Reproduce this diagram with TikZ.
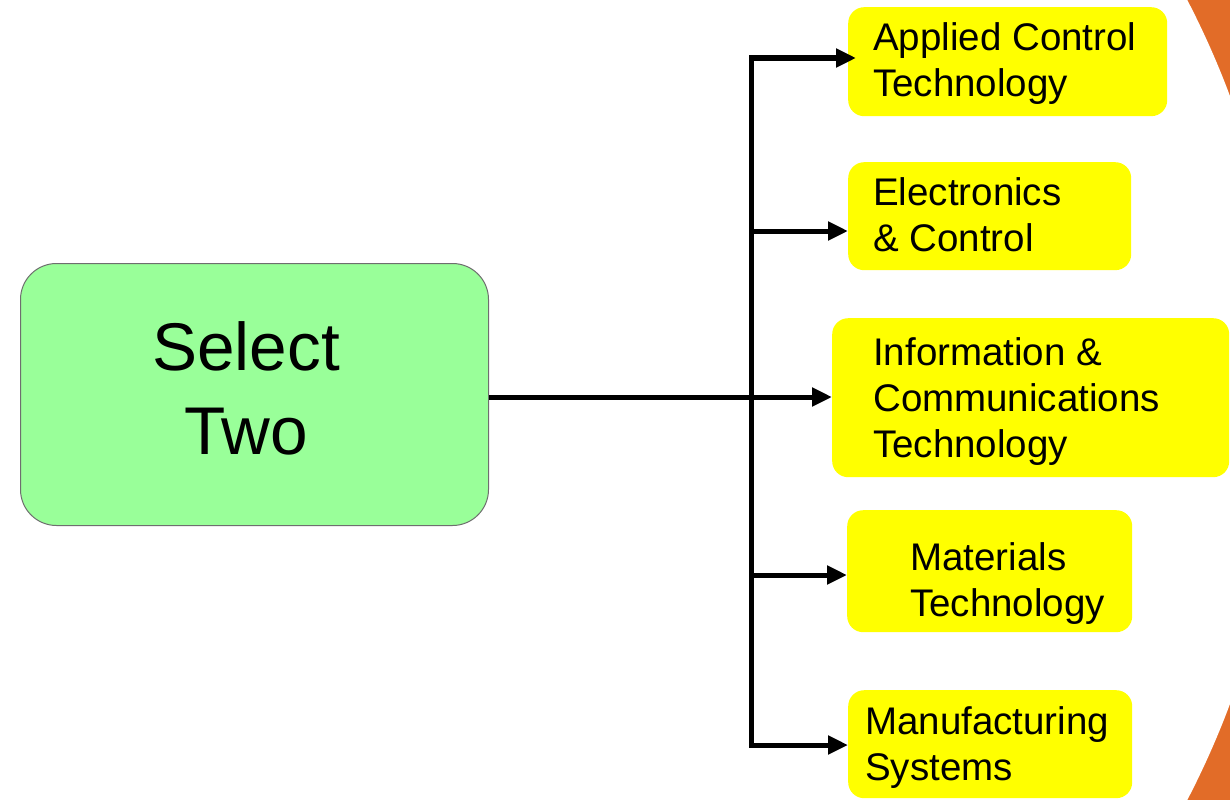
\documentclass[tikz,border=0pt]{standalone}
\usepackage{fontspec}
\setmainfont{Liberation Sans}
\usetikzlibrary{arrows.meta}
\definecolor{boxyellow}{RGB}{255,255,0}
\definecolor{boxgreen}{RGB}{153,255,153}
\definecolor{greenedge}{RGB}{110,110,110}
\definecolor{bgorange}{RGB}{226,108,40}
\begin{document}
\begin{tikzpicture}[x=1pt,y=-1pt,
  ybox/.style={fill=boxyellow, rounded corners=16pt, inner sep=0pt, anchor=north west},
  lbl/.style={font=\fontsize{38.5}{46}\selectfont, align=left, anchor=west, inner sep=0pt},
  conn/.style={line width=5pt, line join=miter},
  arr/.style={conn, -{Triangle[length=20pt,width=18pt]}}]
\useasboundingbox (0,0) rectangle (1230,800);
\begin{scope}
  \clip (0,0) rectangle (1230,800);
  \fill[bgorange] (0,0) rectangle (1230,800);
  \fill[white] (415.6,400) circle[radius=869];
\end{scope}
% boxes
\node[fill=boxgreen, draw=greenedge, line width=1pt, rounded corners=36pt,
      minimum width=468pt, minimum height=262pt, anchor=north west] (sel) at (20,263) {};
\node[ybox, minimum width=319pt, minimum height=109pt] (b1) at (848,7) {};
\node[ybox, minimum width=283pt, minimum height=108pt] (b2) at (848,162) {};
\node[ybox, minimum width=397pt, minimum height=159pt] (b3) at (832,318) {};
\node[ybox, minimum width=285pt, minimum height=122pt] (b4) at (847,510) {};
\node[ybox, minimum width=284pt, minimum height=108pt] (b5) at (848,690) {};
% texts
\node[font=\fontsize{67.5}{84}\selectfont, align=center, inner sep=0pt] (selt) at (246,388) {Select\\Two};
\node[lbl] (t1) at (873,64) {Applied Control\\Technology};
\node[lbl] (t2) at (873,215) {Electronics\\\& Control};
\node[lbl] (t3) at (873,402) {Information \&\\Communications\\Technology};
\node[lbl] (t4) at (910,584) {Materials\\Technology};
\node[lbl] (t5) at (865,748) {Manufacturing\\Systems};
% connectors
\coordinate (j1) at (751,58);
\coordinate (j2) at (751,231);
\coordinate (j3) at (751,397);
\coordinate (j4) at (751,575);
\coordinate (j5) at (751,745);
\draw[arr, shorten >=-8pt] (j3) -- (j1) -- (b1.west |- j1);
\draw[arr] (j3) -- (j5) -- (b5.west |- j5);
\draw[arr] (j2) -- (b2.west |- j2);
\draw[arr] (j4) -- (b4.west |- j4);
\draw[arr] (sel.east |- j3) -- (b3.west |- j3);
\end{tikzpicture}
\end{document}
